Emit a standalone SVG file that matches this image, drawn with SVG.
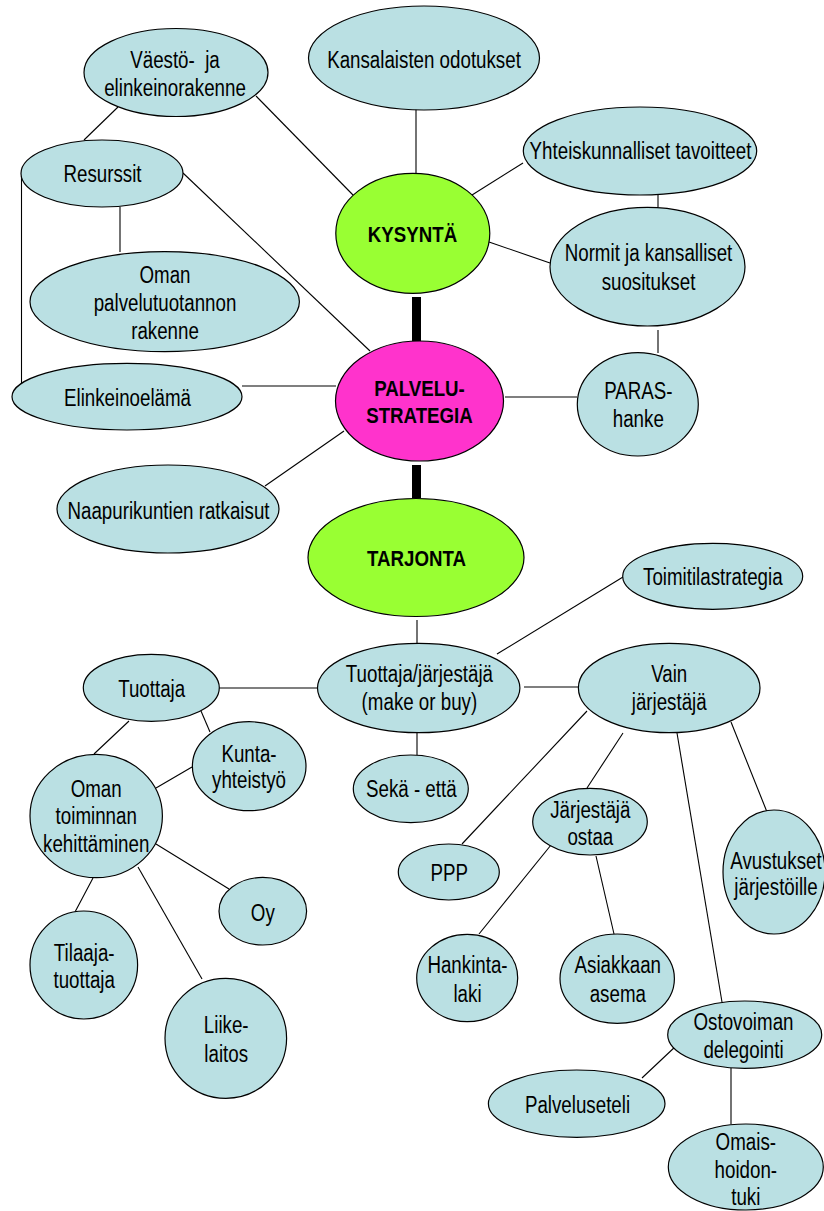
<svg xmlns="http://www.w3.org/2000/svg" width="824" height="1211" viewBox="0 0 824 1211">
<style>
.n{fill:#BAE0E3;stroke:#000;stroke-width:1.2}
.g{fill:#99FF33;stroke:#000;stroke-width:1.2}
.m{fill:#FF33CC;stroke:#000;stroke-width:1.2}
.t{font-family:"Liberation Sans",Arial,sans-serif;font-size:23px;fill:#000;text-anchor:middle}
.b{font-family:"Liberation Sans",Arial,sans-serif;font-size:22px;font-weight:bold;fill:#000;text-anchor:middle}
#connectors line{stroke:#000;stroke-width:1.1;fill:none}
#connectors rect{fill:#000}
</style>
<rect width="824" height="1211" fill="#fff"/>
<g id="connectors">
<line x1="118" y1="107" x2="84" y2="140"/>
<line x1="256" y1="96" x2="353" y2="195"/>
<line x1="120" y1="207" x2="120" y2="252"/>
<line x1="183" y1="173" x2="370" y2="351"/>
<line x1="21.5" y1="176" x2="21.5" y2="385"/>
<line x1="242" y1="386" x2="336" y2="386"/>
<line x1="265" y1="486" x2="344" y2="431"/>
<line x1="416" y1="107" x2="416" y2="173"/>
<line x1="472" y1="195" x2="523" y2="163"/>
<line x1="658" y1="195" x2="658" y2="207"/>
<line x1="489" y1="242" x2="550" y2="263"/>
<line x1="658" y1="330" x2="658" y2="353"/>
<line x1="505" y1="397" x2="577" y2="397"/>
<rect x="412" y="297" width="9" height="44"/>
<rect x="412" y="465" width="9" height="33"/>
<line x1="417" y1="620" x2="417" y2="643"/>
<line x1="497" y1="654" x2="623" y2="577"/>
<line x1="524" y1="687" x2="578" y2="687"/>
<line x1="219" y1="688" x2="318" y2="688"/>
<line x1="417" y1="733" x2="417" y2="755"/>
<line x1="129" y1="721" x2="94" y2="754"/>
<line x1="201" y1="711" x2="210" y2="732"/>
<line x1="156" y1="788" x2="192" y2="767"/>
<line x1="156" y1="844" x2="229" y2="889"/>
<line x1="93" y1="878" x2="75" y2="912"/>
<line x1="138" y1="867" x2="202" y2="979"/>
<line x1="587" y1="711" x2="462" y2="844"/>
<line x1="623" y1="733" x2="587" y2="788"/>
<line x1="551" y1="845" x2="479" y2="934"/>
<line x1="596" y1="856" x2="614" y2="934"/>
<line x1="677" y1="733" x2="722" y2="1002"/>
<line x1="731" y1="722" x2="767" y2="812"/>
<line x1="677" y1="1045" x2="642" y2="1078"/>
<line x1="731" y1="1068" x2="731" y2="1124"/>
</g>
<g id="vaesto"><ellipse class="n" cx="176" cy="72.5" rx="92" ry="44"/>
<text class="t" transform="translate(175 0) scale(0.815 1)"><tspan x="0" y="68">Väestö-&#160; ja</tspan><tspan x="0" y="96">elinkeinorakenne</tspan></text></g>
<g id="kansalaisten"><ellipse class="n" cx="424" cy="58" rx="115.5" ry="52"/>
<text class="t" transform="translate(424 0) scale(0.815 1)"><tspan x="0" y="68">Kansalaisten odotukset</tspan></text></g>
<g id="resurssit"><ellipse class="n" cx="102" cy="173.5" rx="81" ry="33.5"/>
<text class="t" transform="translate(102.5 0) scale(0.815 1)"><tspan x="0" y="182.5">Resurssit</tspan></text></g>
<g id="oman-palvelu"><ellipse class="n" cx="164.7" cy="301.7" rx="134.7" ry="50"/>
<text class="t" transform="translate(165 0) scale(0.815 1)"><tspan x="0" y="283.5">Oman</tspan><tspan x="0" y="311.5">palvelutuotannon</tspan><tspan x="0" y="339.5">rakenne</tspan></text></g>
<g id="elinkeino"><ellipse class="n" cx="127" cy="396.7" rx="115" ry="33.3"/>
<text class="t" transform="translate(127.5 0) scale(0.815 1)"><tspan x="0" y="406.5">Elinkeinoelämä</tspan></text></g>
<g id="naapuri"><ellipse class="n" cx="168" cy="509" rx="111" ry="44"/>
<text class="t" transform="translate(168.5 0) scale(0.815 1)"><tspan x="0" y="519">Naapurikuntien ratkaisut</tspan></text></g>
<g id="kysynta"><ellipse class="g" cx="412.8" cy="233.3" rx="77" ry="60"/>
<text class="b" transform="translate(412.5 0) scale(0.85 1)"><tspan x="0" y="242">KYSYNTÄ</tspan></text></g>
<g id="palvelustrategia"><ellipse class="m" cx="419.5" cy="401" rx="84" ry="60"/>
<text class="b" transform="translate(419.5 0) scale(0.85 1)"><tspan x="0" y="396">PALVELU-</tspan><tspan x="0" y="423.5">STRATEGIA</tspan></text></g>
<g id="yhteiskunnalliset"><ellipse class="n" cx="640" cy="151" rx="116.7" ry="44"/>
<text class="t" transform="translate(640.5 0) scale(0.815 1)"><tspan x="0" y="159.5">Yhteiskunnalliset tavoitteet</tspan></text></g>
<g id="normit"><ellipse class="n" cx="647.5" cy="266.7" rx="97.5" ry="59.3"/>
<text class="t" transform="translate(648.5 0) scale(0.815 1)"><tspan x="0" y="261.5">Normit ja kansalliset</tspan><tspan x="0" y="290">suositukset</tspan></text></g>
<g id="paras"><ellipse class="n" cx="637.8" cy="404.3" rx="60.5" ry="51.7"/>
<text class="t" transform="translate(638.3 0) scale(0.815 1)"><tspan x="0" y="399.5">PARAS-</tspan><tspan x="0" y="427">hanke</tspan></text></g>
<g id="tarjonta"><ellipse class="g" cx="416" cy="557.5" rx="108" ry="59"/>
<text class="b" transform="translate(416.5 0) scale(0.85 1)"><tspan x="0" y="566.5">TARJONTA</tspan></text></g>
<g id="tuottaja-jarjestaja"><ellipse class="n" cx="418.7" cy="688" rx="101.2" ry="44.7"/>
<text class="t" transform="translate(419.4 0) scale(0.815 1)"><tspan x="0" y="682.5">Tuottaja/järjestäjä</tspan><tspan x="0" y="710.5">(make or buy)</tspan></text></g>
<g id="toimitila"><ellipse class="n" cx="712.7" cy="576.3" rx="90" ry="33"/>
<text class="t" transform="translate(712.8 0) scale(0.815 1)"><tspan x="0" y="585">Toimitilastrategia</tspan></text></g>
<g id="vain"><ellipse class="n" cx="669.2" cy="688" rx="90.8" ry="44.7"/>
<text class="t" transform="translate(669.2 0) scale(0.815 1)"><tspan x="0" y="682.5">Vain</tspan><tspan x="0" y="710.5">järjestäjä</tspan></text></g>
<g id="seka"><ellipse class="n" cx="410.8" cy="788.8" rx="57.5" ry="33.8"/>
<text class="t" transform="translate(411.3 0) scale(0.815 1)"><tspan x="0" y="796.7">Sekä - että</tspan></text></g>
<g id="tuottaja"><ellipse class="n" cx="151.3" cy="687.8" rx="68" ry="33.5"/>
<text class="t" transform="translate(151.7 0) scale(0.815 1)"><tspan x="0" y="696.7">Tuottaja</tspan></text></g>
<g id="kunta"><ellipse class="n" cx="249.2" cy="766.2" rx="56.8" ry="44.5"/>
<text class="t" transform="translate(249 0) scale(0.815 1)"><tspan x="0" y="761.7">Kunta-</tspan><tspan x="0" y="788.3">yhteistyö</tspan></text></g>
<g id="oman-toiminnan"><ellipse class="n" cx="96.2" cy="816" rx="66.2" ry="61.7"/>
<text class="t" transform="translate(96.2 0) scale(0.815 1)"><tspan x="0" y="797.3">Oman</tspan><tspan x="0" y="824.3">toiminnan</tspan><tspan x="0" y="852.3">kehittäminen</tspan></text></g>
<g id="oy"><ellipse class="n" cx="262.8" cy="911.2" rx="43.8" ry="33.8"/>
<text class="t" transform="translate(262.8 0) scale(0.815 1)"><tspan x="0" y="921">Oy</tspan></text></g>
<g id="tilaaja"><ellipse class="n" cx="83.8" cy="965" rx="53.8" ry="54"/>
<text class="t" transform="translate(84.2 0) scale(0.815 1)"><tspan x="0" y="961">Tilaaja-</tspan><tspan x="0" y="988.3">tuottaja</tspan></text></g>
<g id="liikelaitos"><ellipse class="n" cx="225.8" cy="1038.3" rx="60.8" ry="60"/>
<text class="t" transform="translate(226.2 0) scale(0.815 1)"><tspan x="0" y="1032.7">Liike-</tspan><tspan x="0" y="1061.7">laitos</tspan></text></g>
<g id="ppp"><ellipse class="n" cx="448.8" cy="872" rx="50.5" ry="28"/>
<text class="t" transform="translate(449.2 0) scale(0.815 1)"><tspan x="0" y="880.7">PPP</tspan></text></g>
<g id="jarjestaja-ostaa"><ellipse class="n" cx="590" cy="821.7" rx="57.3" ry="33.3"/>
<text class="t" transform="translate(590.3 0) scale(0.815 1)"><tspan x="0" y="818.3">Järjestäjä</tspan><tspan x="0" y="845">ostaa</tspan></text></g>
<g id="hankinta"><ellipse class="n" cx="467.2" cy="978" rx="50.5" ry="43.7"/>
<text class="t" transform="translate(467.5 0) scale(0.815 1)"><tspan x="0" y="973.3">Hankinta-</tspan><tspan x="0" y="1001.7">laki</tspan></text></g>
<g id="asiakkaan"><ellipse class="n" cx="617.2" cy="978.7" rx="57.2" ry="44.7"/>
<text class="t" transform="translate(617.8 0) scale(0.815 1)"><tspan x="0" y="973.3">Asiakkaan</tspan><tspan x="0" y="1001.7">asema</tspan></text></g>
<g id="avustukset"><ellipse class="n" cx="774" cy="872" rx="51" ry="62"/>
<text class="t" transform="translate(776 0) scale(0.815 1)"><tspan x="0" y="869.5">Avustukset</tspan><tspan x="0" y="895.5">järjestöille</tspan></text></g>
<g id="ostovoiman"><ellipse class="n" cx="744.7" cy="1034.7" rx="77" ry="33.7"/>
<text class="t" transform="translate(743.5 0) scale(0.815 1)"><tspan x="0" y="1030">Ostovoiman</tspan><tspan x="0" y="1058.3">delegointi</tspan></text></g>
<g id="palveluseteli"><ellipse class="n" cx="576.7" cy="1103.7" rx="88.3" ry="33.7"/>
<text class="t" transform="translate(577.5 0) scale(0.815 1)"><tspan x="0" y="1113.3">Palveluseteli</tspan></text></g>
<g id="omaishoidontuki"><ellipse class="n" cx="745.8" cy="1167" rx="77.5" ry="43"/>
<text class="t" transform="translate(745.8 0) scale(0.815 1)"><tspan x="0" y="1150">Omais-</tspan><tspan x="0" y="1178.3">hoidon-</tspan><tspan x="0" y="1205">tuki</tspan></text></g>
</svg>
